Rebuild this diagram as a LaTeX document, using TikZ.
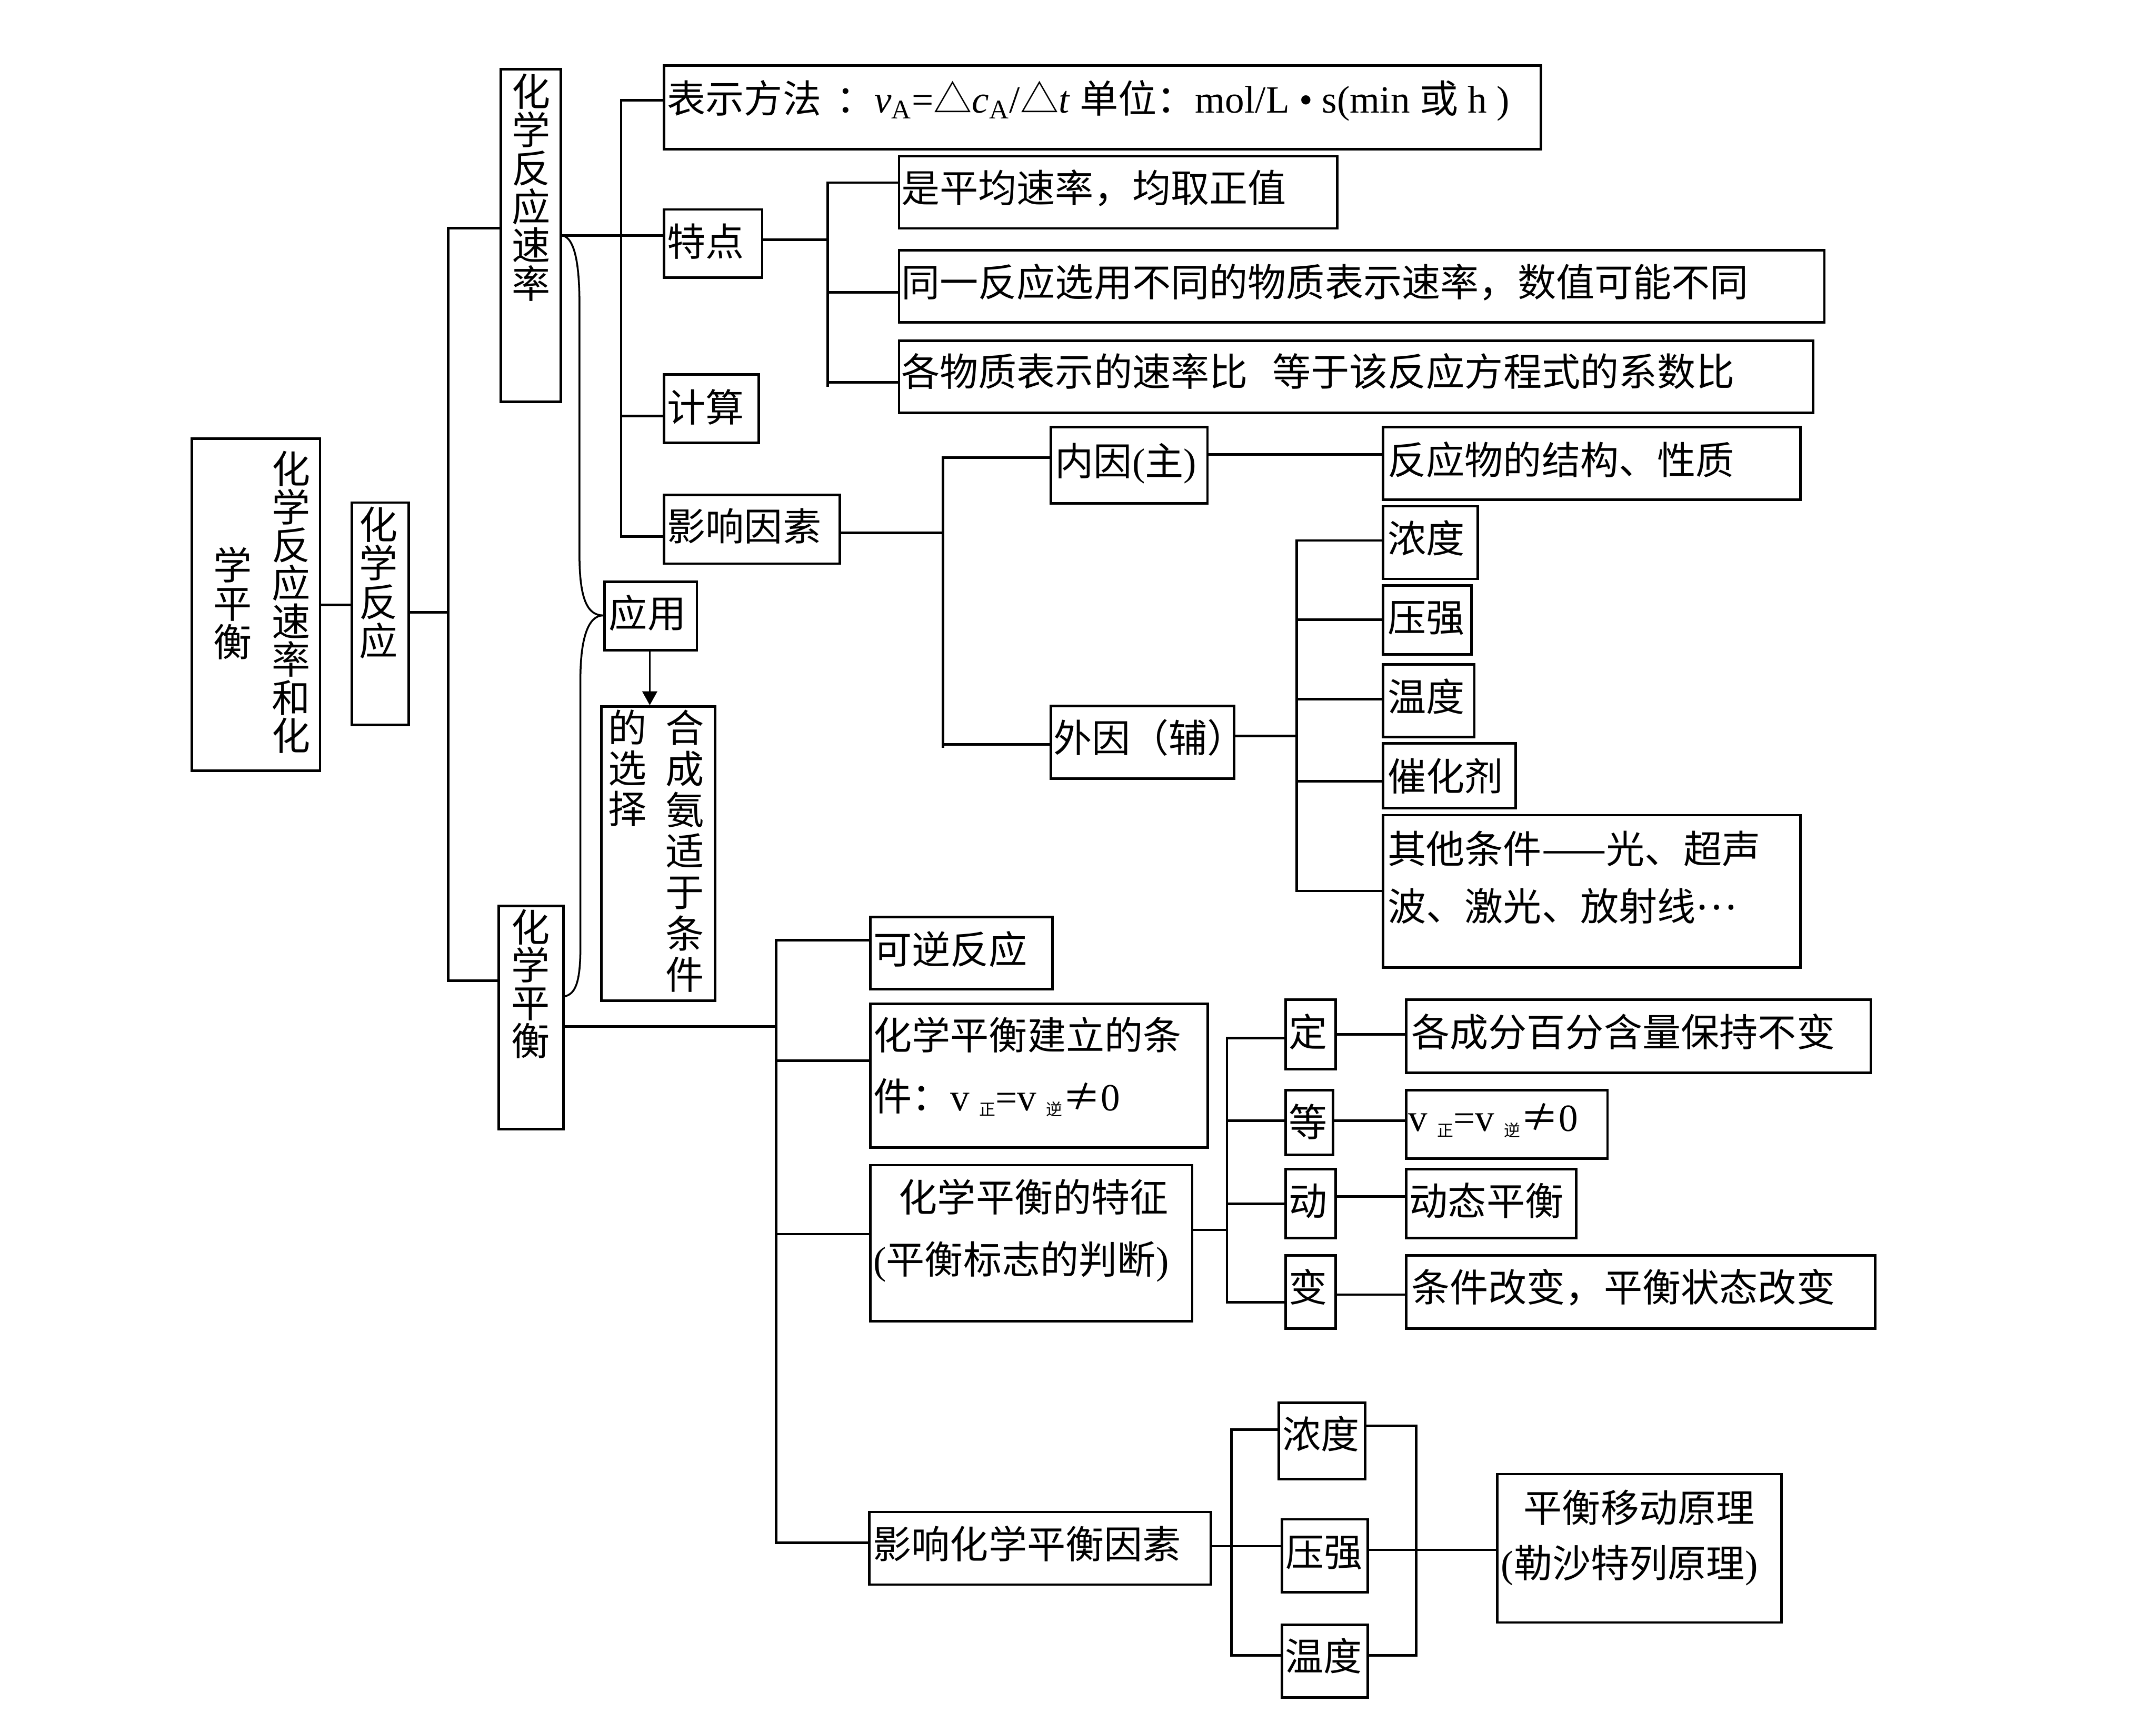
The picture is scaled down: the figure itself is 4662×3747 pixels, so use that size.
\documentclass[tikz,border=0pt]{standalone}
\usepackage{fontspec}
\setmainfont{Liberation Serif}
\newfontfamily\cjk{Noto Sans CJK SC}
\newfontfamily\lat{Liberation Serif}
\usetikzlibrary{fit,arrows.meta}
\newcommand\fsz{\fontsize{23.7pt}{23.7pt}\selectfont}
\newcommand\subcj[1]{\raisebox{-3pt}{\cjk\fontsize{10pt}{10pt}\selectfont #1}}
\begin{document}
\begin{tikzpicture}[x=0.1mm,y=-0.1mm,
  bx/.style={draw, line width=0.55mm, inner sep=0pt},
  ln/.style={line width=0.55mm, line cap=rect},
  br/.style={line width=0.4mm},
  ar/.style={line width=0.4mm, -{Triangle[length=3mm,width=3.2mm]}},
  tx/.style={inner sep=0pt, anchor=west, font=\cjk\fsz, text height=20.9pt, text depth=2.8pt},
  vt/.style={inner sep=0pt, anchor=north, align=center, font=\cjk\fontsize{23.7pt}{8.3mm}\selectfont},
  vtw/.style={inner sep=0pt, anchor=north, align=center, font=\cjk\fontsize{23.7pt}{8.9mm}\selectfont},
]
\fill[white] (0,0) rectangle (4662,3747);
\useasboundingbox (0,0) rectangle (4662,3747);

% ---------- boxes ----------
\node[bx, fit={(415,949) (692,1667)}] (root) {};
\node[bx, fit={(761,1087) (884,1568)}] (hxfy) {};
\node[bx, fit={(1083,150) (1213,869)}] (sulv) {};
\node[bx, fit={(1078,1959) (1218,2442)}] (hxph) {};
\node[bx, fit={(1436,142) (3332,323)}] (bsff) {};
\node[bx, fit={(1436,453) (1648,600)}] (td) {};
\node[bx, fit={(1944,338) (2892,494)}] (p1) {};
\node[bx, fit={(1944,541) (3945,697)}] (p2) {};
\node[bx, fit={(1944,737) (3920,893)}] (p3) {};
\node[bx, fit={(1436,810) (1641,958)}] (js) {};
\node[bx, fit={(1436,1070) (1816,1219)}] (yxys) {};
\node[bx, fit={(2272,924) (2611,1089)}] (ny) {};
\node[bx, fit={(2991,924) (3893,1081)}] (fyw) {};
\node[bx, fit={(2272,1527) (2668,1684)}] (wy) {};
\node[bx, fit={(2991,1095) (3195,1252)}] (nd1) {};
\node[bx, fit={(2991,1266) (3182,1415)}] (yq1) {};
\node[bx, fit={(2991,1437) (3188,1594)}] (wd1) {};
\node[bx, fit={(2991,1608) (3277,1748)}] (chj) {};
\node[bx, fit={(2991,1763) (3893,2093)}] (qt) {};
\node[bx, fit={(1307,1258) (1507,1406)}] (yy) {};
\node[bx, fit={(1300,1528) (1546,2164)}] (hca) {};
\node[bx, fit={(1882,1983) (2276,2139)}] (kn) {};
\node[bx, fit={(1882,2171) (2612,2482)}] (jl) {};
\node[bx, fit={(1882,2520) (2578,2857)}] (tz) {};
\node[bx, fit={(2780,2162) (2888,2312)}] (ding) {};
\node[bx, fit={(3041,2162) (4045,2320)}] (gcf) {};
\node[bx, fit={(2780,2358) (2882,2498)}] (deng) {};
\node[bx, fit={(3041,2358) (3476,2506)}] (veq) {};
\node[bx, fit={(2780,2528) (2888,2678)}] (dong) {};
\node[bx, fit={(3041,2528) (3408,2678)}] (dtph) {};
\node[bx, fit={(2780,2715) (2888,2873)}] (bian) {};
\node[bx, fit={(3041,2715) (4055,2873)}] (tjgb) {};
\node[bx, fit={(1880,3270) (2618,3427)}] (yxph) {};
\node[bx, fit={(2765,3034) (2952,3199)}] (nd2) {};
\node[bx, fit={(2772,3286) (2958,3444)}] (yq2) {};
\node[bx, fit={(2772,3514) (2958,3671)}] (wd2) {};
\node[bx, fit={(3238,3188) (3852,3509)}] (pyyl) {};

% ---------- vertical texts ----------
\node[vt, font=\cjk\fontsize{23.7pt}{8.24mm}\selectfont] at (629,975) {化\\学\\反\\应\\速\\率\\和\\化};
\node[vt] at (503,1182) {学\\平\\衡};
\node[vt, font=\cjk\fontsize{23.7pt}{8.4mm}\selectfont] at (819,1095) {化\\学\\反\\应};
\node[vt] at (1148,159) {化\\学\\反\\应\\速\\率};
\node[vt, font=\cjk\fontsize{23.7pt}{8.2mm}\selectfont] at (1147,1966) {化\\学\\平\\衡};
\node[vtw] at (1481,1534) {合\\成\\氨\\适\\于\\条\\件};
\node[vtw, font=\cjk\fontsize{23.7pt}{8.8mm}\selectfont] at (1357,1534) {的\\选\\择};

% ---------- horizontal texts ----------
\node[tx] at (1442,212) {表示方法\hspace{9pt}：{\lat\textit{v}\textsubscript{A}=}△{\lat\textit{c}\textsubscript{A}/}△{\lat\textit{t} }单位：{\lat mol/L • s(min }或{\lat\ h )}};
\node[tx] at (1442,522) {特点};
\node[tx] at (1948,406) {是平均速率，均取正值};
\node[tx] at (1948,609) {同一反应选用不同的物质表示速率，数值可能不同};
\node[tx] at (1948,803) {各物质表示的速率比\hspace{15pt}等于该反应方程式的系数比};
\node[tx] at (1442,880) {计算};
\node[tx] at (1442,1138) {影响因素};
\node[tx] at (2281,996) {内因{\lat (}主{\lat )}};
\node[tx] at (3000,994) {反应物的结构、性质};
\node[tx] at (3000,1164) {浓度};
\node[tx] at (3000,1335) {压强};
\node[tx] at (3000,1506) {温度};
\node[tx] at (3000,1678) {催化剂};
\node[tx] at (3000,1835) {其他条件——光、超声};
\node[tx] at (3000,1960) {波、激光、放射线\raisebox{7pt}{…}};
\node[tx] at (1316,1326) {应用};
\node[tx] at (2277,1595) {外因（辅）};
\node[tx] at (1888,2053) {可逆反应};
\node[tx] at (1888,2238) {化学平衡建立的条};
\node[tx] at (1888,2370) {件：{\lat v }\subcj{正}{\lat =v }\subcj{逆}≠{\lat 0}};
\node[tx] at (1943,2589) {化学平衡的特征};
\node[tx] at (1888,2723) {{\lat (}平衡标志的判断{\lat )}};
\node[tx] at (2786,2232) {定};
\node[tx] at (3051,2232) {各成分百分含量保持不变};
\node[tx] at (2786,2426) {等};
\node[tx] at (3045,2415) {{\lat v }\subcj{正}{\lat =v }\subcj{逆}≠{\lat 0}};
\node[tx] at (2786,2597) {动};
\node[tx] at (3047,2597) {动态平衡};
\node[tx] at (2786,2784) {变};
\node[tx] at (3051,2784) {条件改变，平衡状态改变};
\node[tx] at (1887,3339) {影响化学平衡因素};
\node[tx] at (2772,3101) {浓度};
\node[tx] at (2779,3356) {压强};
\node[tx] at (2778,3581) {温度};
\node[tx] at (3294,3260) {平衡移动原理};
\node[tx] at (3245,3380) {{\lat (}勒沙特列原理{\lat )}};

% ---------- connectors: upper part ----------
\draw[ln] (root.east |- 0,1308) -- (hxfy.west |- 0,1308);
\draw[ln] (hxfy.east |- 0,1324) -- (969,1324);
\draw[ln] (969,493) -- (969,2121);
\draw[ln] (969,493) -- (sulv.west |- 0,493);
\draw[ln] (969,2121) -- (hxph.west |- 0,2121);
\draw[ln] (sulv.east |- 0,509) -- (td.west |- 0,509);
\draw[ln] (1343,217) -- (1343,1160);
\draw[ln] (1343,217) -- (bsff.west |- 0,217);
\draw[ln] (1343,900) -- (js.west |- 0,900);
\draw[ln] (1343,1160) -- (yxys.west |- 0,1160);
\draw[ln] (td.east |- 0,518) -- (1790,518);
\draw[ln] (1790,395) -- (1790,834);
\draw[ln] (1790,395) -- (p1.west |- 0,395);
\draw[ln] (1790,632) -- (p2.west |- 0,632);
\draw[ln] (1790,827) -- (p3.west |- 0,827);
\draw[ln] (yxys.east |- 0,1152) -- (2039,1152);
\draw[ln] (2039,990) -- (2039,1615);
\draw[ln] (2039,990) -- (ny.west |- 0,990);
\draw[ln] (2039,1610) -- (wy.west |- 0,1610);
\draw[ln] (ny.east |- 0,983) -- (fyw.west |- 0,983);
\draw[ln] (wy.east |- 0,1592) -- (2804,1592);
\draw[ln] (2804,1169) -- (2804,1927);
\draw[ln] (2804,1169) -- (nd1.west |- 0,1169);
\draw[ln] (2804,1340) -- (yq1.west |- 0,1340);
\draw[ln] (2804,1512) -- (wd1.west |- 0,1512);
\draw[ln] (2804,1690) -- (chj.west |- 0,1690);
\draw[ln] (2804,1927) -- (qt.west |- 0,1927);

% brace
\draw[br] (sulv.east |- 0,509) .. controls (1245,515) and (1253,580) .. (1253,660)
  -- (1253,1200) .. controls (1253,1300) and (1272,1331) .. (yy.west |- 0,1331)
  .. controls (1272,1331) and (1255,1380) .. (1255,1470)
  -- (1255,2050) .. controls (1255,2130) and (1242,2150) .. (hxph.east |- 0,2155);
% arrow
\draw[ar] (yy.south -| 1405,0) -- (hca.north -| 1405,0);

% ---------- connectors: lower part ----------
\draw[ln] (hxph.east |- 0,2220) -- (1678,2220);
\draw[ln] (1678,2033) -- (1678,3337);
\draw[ln] (1678,2033) -- (kn.west |- 0,2033);
\draw[ln] (1678,2294) -- (jl.west |- 0,2294);
\draw[ln] (1678,2669) -- (tz.west |- 0,2669);
\draw[ln] (1678,3337) -- (yxph.west |- 0,3337);
\draw[ln] (tz.east |- 0,2660) -- (2653,2660);
\draw[ln] (2653,2245) -- (2653,2816);
\draw[ln] (2653,2245) -- (ding.west |- 0,2245);
\draw[ln] (2653,2424) -- (deng.west |- 0,2424);
\draw[ln] (2653,2604) -- (dong.west |- 0,2604);
\draw[ln] (2653,2816) -- (bian.west |- 0,2816);
\draw[ln] (ding.east |- 0,2237) -- (gcf.west |- 0,2237);
\draw[ln] (deng.east |- 0,2424) -- (veq.west |- 0,2424);
\draw[ln] (dong.east |- 0,2588) -- (dtph.west |- 0,2588);
\draw[ln] (bian.east |- 0,2800) -- (tjgb.west |- 0,2800);
\draw[ln] (yxph.east |- 0,3344) -- (2663,3344);
\draw[ln] (2663,3092) -- (2663,3580);
\draw[ln] (2663,3092) -- (nd2.west |- 0,3092);
\draw[ln] (2663,3344) -- (yq2.west |- 0,3344);
\draw[ln] (2663,3580) -- (wd2.west |- 0,3580);
\draw[ln] (nd2.east |- 0,3084) -- (3062,3084);
\draw[ln] (yq2.east |- 0,3352) -- (3062,3352);
\draw[ln] (wd2.east |- 0,3580) -- (3062,3580);
\draw[ln] (3062,3084) -- (3062,3580);
\draw[ln] (3062,3352) -- (pyyl.west |- 0,3352);
\end{tikzpicture}
\end{document}
